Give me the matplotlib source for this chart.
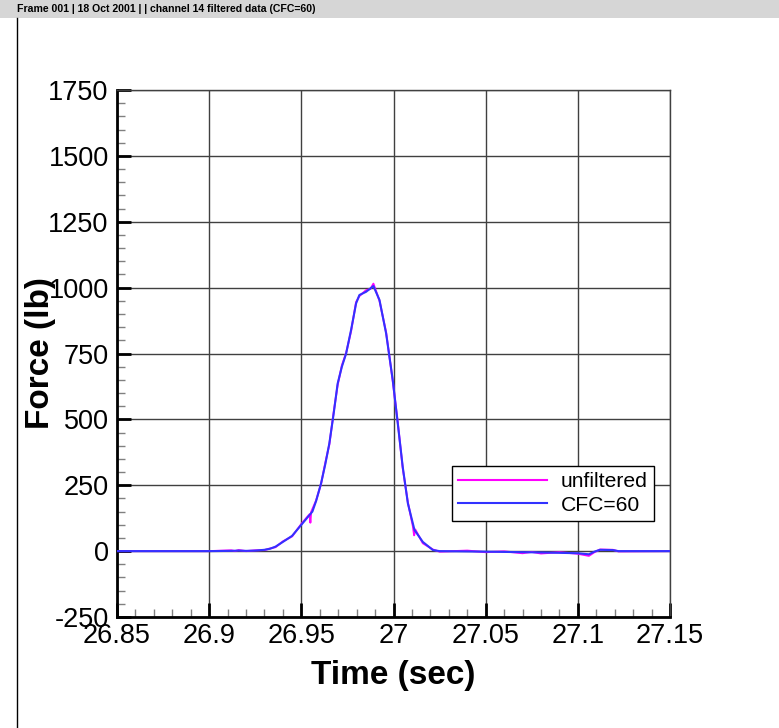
import matplotlib
matplotlib.use("Agg")
import matplotlib.pyplot as plt
from matplotlib.ticker import MultipleLocator, FixedLocator
from matplotlib.patches import Rectangle
from matplotlib.lines import Line2D

plt.rcParams['font.family'] = ['Liberation Sans', 'DejaVu Sans']
plt.rcParams['axes.unicode_minus'] = False

header_text = "Frame 001 | 18 Oct 2001 | | channel 14 filtered data (CFC=60)"
x_label = "Time (sec)"
y_label = "Force (lb)"
series_names = ["unfiltered", "CFC=60"]
x_ticks = [26.85, 26.9, 26.95, 27.0, 27.05, 27.1, 27.15]
x_ticklabels = ["26.85", "26.9", "26.95", "27", "27.05", "27.1", "27.15"]
y_ticks = [-250, 0, 250, 500, 750, 1000, 1250, 1500, 1750]

# unfiltered signal
t_raw = [26.85, 26.90, 26.912, 26.914, 26.916, 26.92, 26.925, 26.93, 26.933, 26.936,
         26.94, 26.945, 26.95, 26.953, 26.9545, 26.9549, 26.9553, 26.958, 26.9607, 26.963,
         26.9652, 26.9675, 26.9697, 26.972, 26.9743, 26.977, 26.9797, 26.9815, 26.9851, 26.9875,
         26.9891, 26.9924, 26.996, 26.9996, 27.0023, 27.005, 27.0078, 27.0105, 27.0112, 27.0118,
         27.0159, 27.0214, 27.025, 27.04, 27.05, 27.06, 27.07, 27.075, 27.08, 27.09,
         27.10, 27.106, 27.109, 27.112, 27.119, 27.122, 27.15]
f_raw = [0, 0, 3, 0, 4, 0, 3, 4, 10, 15,
         37, 56, 103, 128, 140, 108, 148, 192, 255, 335,
         405, 525, 630, 705, 752, 835, 945, 968, 990, 995,
         1015, 950, 830, 645, 490, 315, 185, 95, 60, 82,
         30, 6, -2, 2, -4, -1, -8, -3, -9, -4,
         -10, -18, -4, 6, 5, -1, 0]

# CFC=60 filtered signal
t_cfc = [26.85, 26.90, 26.912, 26.916, 26.92, 26.925, 26.93, 26.933, 26.936, 26.94,
         26.945, 26.95, 26.953, 26.956, 26.958, 26.9607, 26.963, 26.9652, 26.9675, 26.9697,
         26.972, 26.9743, 26.977, 26.9797, 26.9815, 26.9851, 26.9891, 26.9924, 26.996, 26.9996,
         27.0023, 27.005, 27.0078, 27.0114, 27.0159, 27.0214, 27.025, 27.05, 27.08, 27.10,
         27.106, 27.109, 27.112, 27.119, 27.122, 27.15]
f_cfc = [0, 0, 1, 2, 1, 2, 5, 9, 17, 35,
         58, 100, 125, 150, 190, 257, 330, 409, 520, 636,
         700, 750, 840, 940, 972, 984, 1006, 953, 826, 649,
         485, 320, 181, 80, 35, 4, 0, -2, -5, -8,
         -12, -2, 5, 4, 0, 0]

W, H = 779, 728
fig = plt.figure(figsize=(W / 100, H / 100), dpi=100)

# header bar and left frame line
fig.patches.append(Rectangle((0, 1 - 18 / H), 1, 18 / H, transform=fig.transFigure,
                             facecolor='#d6d6d6', edgecolor='none', zorder=0))
fig.text(17 / W, 1 - 9 / H, header_text, fontsize=7.6, fontweight='bold',
         ha='left', va='center')
fig.lines.append(Line2D([16.5 / W, 16.5 / W], [0, 1 - 18 / H], transform=fig.transFigure,
                        color='black', linewidth=1))

ax = fig.add_axes([117 / W, 1 - 617 / H, (670 - 117) / W, (617 - 90) / H])

magenta = '#ff00ff'
blue = '#3232ff'
ax.plot(t_raw, f_raw, color=magenta, linewidth=1.4, label=series_names[0], zorder=3)
ax.plot(t_cfc, f_cfc, color=blue, linewidth=1.5, label=series_names[1], zorder=4)

ax.set_xlim(26.85, 27.15)
ax.set_ylim(-250, 1750)
ax.xaxis.set_major_locator(FixedLocator(x_ticks))
ax.set_xticklabels(x_ticklabels)
ax.yaxis.set_major_locator(FixedLocator(y_ticks))
ax.xaxis.set_minor_locator(MultipleLocator(0.01))
ax.yaxis.set_minor_locator(MultipleLocator(50))

ax.grid(True, which='major', color='#404040', linewidth=1)
ax.set_axisbelow(True)

ax.tick_params(which='major', direction='in', length=10, width=2, color='black',
               labelsize=19.5, pad=6)
ax.tick_params(which='minor', direction='in', length=5.5, width=1, color='#808080')
ax.tick_params(axis='x', which='major', pad=4.5)
ax.tick_params(top=False, right=False, which='both')

for s in ['left', 'bottom']:
    ax.spines[s].set_linewidth(2)
    ax.spines[s].set_color('black')
for s in ['top', 'right']:
    ax.spines[s].set_linewidth(1)
    ax.spines[s].set_color('#404040')

ax.set_xlabel(x_label, fontsize=24, fontweight='bold', labelpad=8)
ax.set_ylabel(y_label, fontsize=24, fontweight='bold')
ax.yaxis.set_label_coords((56 - 117) / 553, 0.5)

leg = ax.legend(loc='upper left', bbox_to_anchor=((452 - 117) / 553, (617 - 466) / 527),
                borderaxespad=0, fontsize=15.2, handlelength=4.2, handletextpad=0.65,
                borderpad=0.3, labelspacing=0.2, fancybox=False, framealpha=1,
                edgecolor='black')
leg.get_frame().set_linewidth(1)
for line in leg.get_lines():
    line.set_linewidth(1.5)

fig.savefig("out.png", dpi=100)
